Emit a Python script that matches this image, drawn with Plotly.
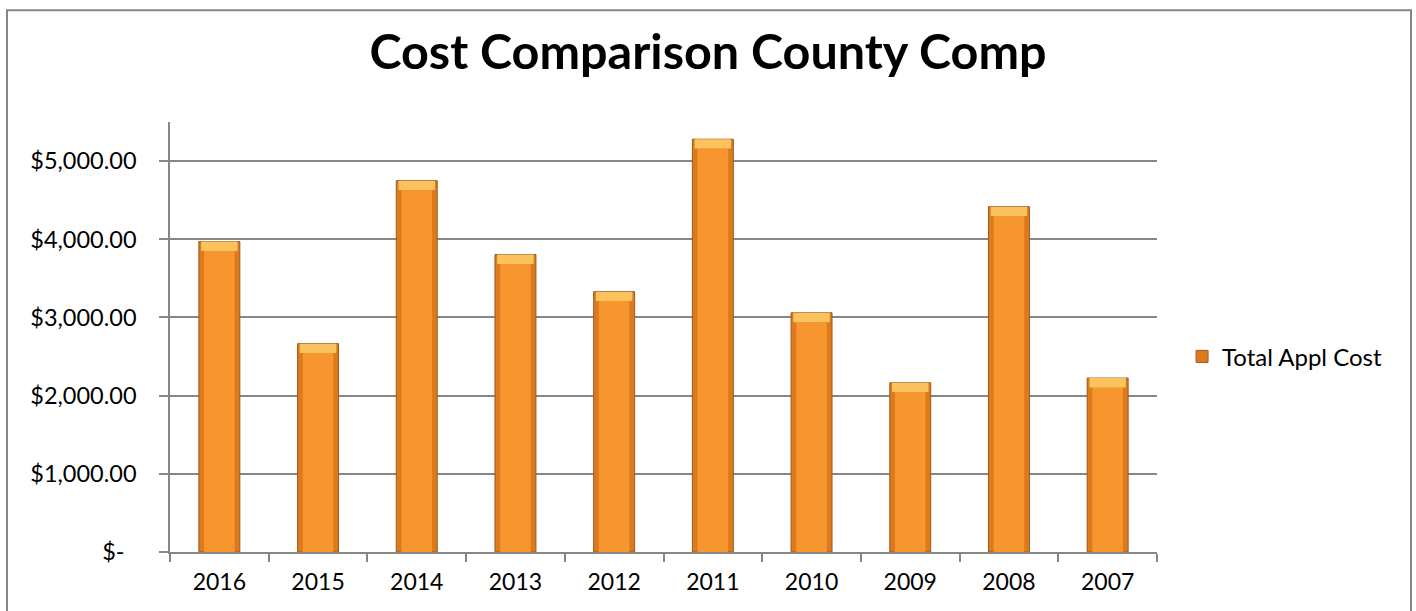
import plotly.graph_objects as go

years = ["2016", "2015", "2014", "2013", "2012", "2011", "2010", "2009", "2008", "2007"]
total_appl_cost = [3970, 2665, 4750, 3805, 3330, 5280, 3060, 2165, 4417, 2225]
tick_vals = [0, 1000, 2000, 3000, 4000, 5000]
tick_text = ["$-\u00a0\u00a0", "$1,000.00", "$2,000.00", "$3,000.00", "$4,000.00", "$5,000.00"]
series_name = "Total Appl Cost"
title_text = "Cost Comparison County Comp"

FONT = "Lato"
cap = 120  # bevel cap height in data units (style)

fig = go.Figure()
fig.add_trace(go.Bar(
    x=years, y=total_appl_cost, name=series_name, width=0.415,
    marker=dict(color="#DD7A1C", line=dict(color="#9A5A22", width=1)),
    hoverinfo="skip", showlegend=True,
))
fig.add_trace(go.Bar(
    x=years, y=[v - cap for v in total_appl_cost], width=0.31,
    marker=dict(color="#F7952F", line=dict(width=0)),
    hoverinfo="skip", showlegend=False,
))
fig.add_trace(go.Bar(
    x=years, y=[cap] * len(years), base=[v - cap for v in total_appl_cost], width=0.37,
    marker=dict(color="#FBC35E", line=dict(width=0)),
    hoverinfo="skip", showlegend=False,
))

fig.update_layout(
    width=1416, height=611,
    paper_bgcolor="white", plot_bgcolor="white",
    barmode="overlay",
    margin=dict(l=170, r=259, t=122, b=58.5, pad=0),
    font=dict(family=FONT, size=23.5, color="black"),
    title=dict(text="<b>" + title_text + "</b>", x=(708 - 170) / 987, xanchor="center", xref="paper",
               y=1 - 52 / 611, yanchor="middle", yref="container",
               font=dict(family=FONT, size=48.5, color="black")),
    legend=dict(x=1.0254, xanchor="left", y=0.454, yanchor="middle",
                font=dict(family=FONT, size=24, color="black"), bgcolor="rgba(0,0,0,0)"),
    xaxis=dict(type="category", showline=True, linecolor="#868686", linewidth=1.5,
               ticks="outside", ticklen=8, tickcolor="#868686", tickwidth=1.5,
               tickson="boundaries", showgrid=False, zeroline=False,
               ticklabelstandoff=9,
               tickfont=dict(family=FONT, size=23, color="black")),
    yaxis=dict(range=[0, 5500], tickvals=tick_vals, ticktext=tick_text,
               showline=True, linecolor="#868686", linewidth=1.5,
               ticks="outside", ticklen=9, tickcolor="#868686", tickwidth=1.5,
               showgrid=True, gridcolor="#868686", gridwidth=1.5, zeroline=False,
               ticklabelstandoff=18,
               tickfont=dict(family=FONT, size=23.5, color="black")),
    shapes=[dict(type="rect", xref="paper", yref="paper",
                 x0=(7 - 170) / 987, x1=(1411 - 170) / 987,
                 y0=(552.5 - 615) / 430.5, y1=(552.5 - 10) / 430.5,
                 line=dict(color="#868686", width=2), fillcolor="rgba(0,0,0,0)", layer="below")],
)

fig.write_html("out.html", config={"displayModeBar": False},
               post_script="document.body.style.margin='0px';")
